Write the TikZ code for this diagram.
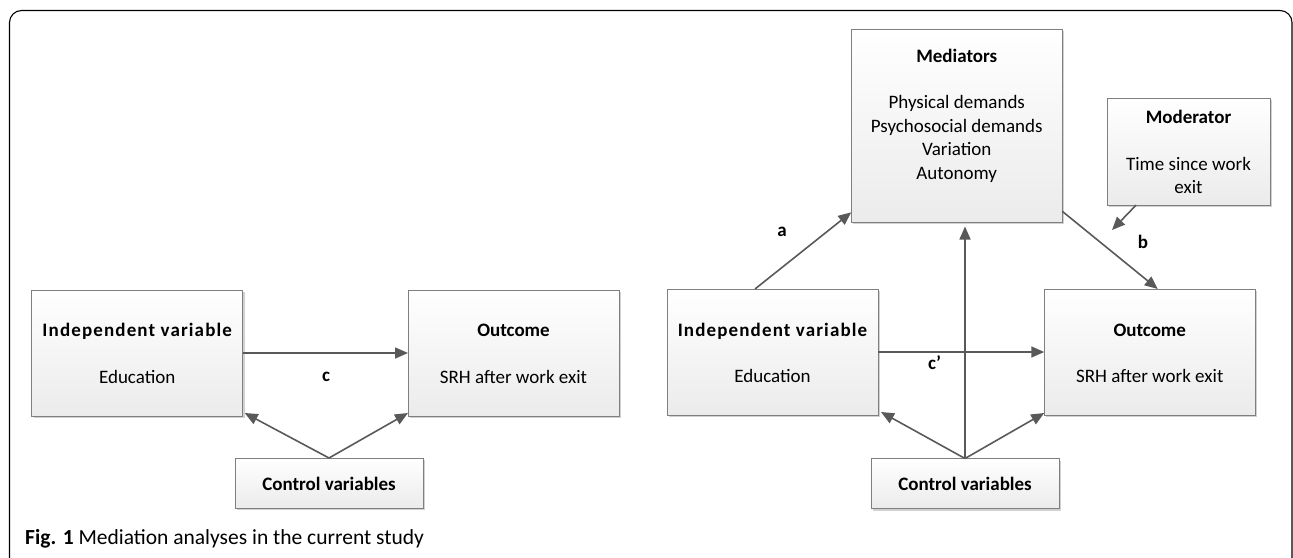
\documentclass[tikz,border=0pt]{standalone}
\usepackage{fontspec}
\setmainfont{Carlito}
\usetikzlibrary{arrows.meta,shadows,calc}
\definecolor{boxline}{HTML}{7F7F7F}
\definecolor{arr}{HTML}{595959}
\definecolor{boxbot}{HTML}{EBEBEB}
\tikzset{
  box/.style={draw=boxline, line width=0.9pt, top color=white, bottom color=boxbot,
    drop shadow={opacity=0.18, shadow xshift=2pt, shadow yshift=-2pt, fill=black},
    inner sep=0pt, outer sep=0pt},
  txt/.style={font=\fontsize{19}{23.5}\selectfont, inner sep=0pt, anchor=base, text=black},
  ttl/.style={txt, font=\fontsize{19}{23.5}\selectfont\bfseries},
  wide/.style={ttl, font=\fontsize{19}{23.5}\selectfont\bfseries\addfontfeatures{LetterSpace=6}},
  lab/.style={ttl},
  conn/.style={draw=arr, line width=1.6pt, -{Triangle[length=13pt,width=11pt]}},
}
\begin{document}
\begin{tikzpicture}[x=1pt,y=-1pt]
\useasboundingbox (0,0) rectangle (1293,557);
% frame
\draw[line width=1.1pt, rounded corners=12pt] (9.5,10.5) rectangle (1292,575);

% ---------- left panel ----------
\node[box, minimum width=211pt, minimum height=126pt] (indL) at (137.2,353) {};
\node[box, minimum width=211pt, minimum height=126pt] (outL) at (513.5,353) {};
\node[box, minimum width=188pt, minimum height=50pt] (ctlL) at (329,483) {};
\node[wide] (indLt) at (137.2,336) {Independent variable};
\node[txt] (indLs) at (137.2,383) {Education};
\node[ttl] (outLt) at (513.5,336) {Outcome};
\node[txt] (outLs) at (513.5,383) {SRH after work exit};
\node[ttl] (ctlLt) at (329,490) {Control variables};
\draw[conn] (indL.east) -- (outL.west);
\node[lab] (labc) at (326,381) {c};
\draw[conn] (ctlL.north) -- ($(indL.south east)+(2,-3)$);
\draw[conn] (ctlL.north) -- ($(outL.south west)+(0,-3)$);

% ---------- right panel ----------
\node[box, minimum width=211pt, minimum height=193pt] (med) at (956.75,125.8) {};
\node[box, minimum width=163pt, minimum height=107pt] (mod) at (1188.5,151.7) {};
\node[box, minimum width=211pt, minimum height=126pt] (indR) at (772.5,352) {};
\node[box, minimum width=211pt, minimum height=126pt] (outR) at (1149.75,352) {};
\node[box, minimum width=188pt, minimum height=50pt] (ctlR) at (965,483.5) {};

\node[ttl] (medt) at (956.75,62) {Mediators};
\node[txt] (med1) at (956.75,108.5) {Physical demands};
\node[txt] (med2) at (956.75,132) {Psychosocial demands};
\node[txt] (med3) at (956.75,155.5) {Variation};
\node[txt] (med4) at (956.75,179) {Autonomy};
\node[ttl] (modt) at (1188.5,123) {Moderator};
\node[txt] (mod1) at (1188.5,170) {Time since work};
\node[txt] (mod2) at (1188.5,193.5) {exit};
\node[wide] (indRt) at (772.5,336) {Independent variable};
\node[txt] (indRs) at (772.5,382.5) {Education};
\node[ttl] (outRt) at (1149.75,336) {Outcome};
\node[txt] (outRs) at (1149.75,382.5) {SRH after work exit};
\node[ttl] (ctlRt) at (965,490.5) {Control variables};

\coordinate (aS) at ($(indR.north west)+(88,0)$);
\coordinate (aE) at ($(med.south west)+(0,-10)$);
\draw[conn] (aS) -- (aE);
\node[lab] (laba) at (782,236) {a};
\coordinate (bS) at ($(med.south east)+(0,-11)$);
\coordinate (bE) at ($(outR.north west)+(113.5,0)$);
\draw[conn] (bS) -- (bE);
\node[lab] (labb) at (1143,248.5) {b};
\coordinate (mS) at ($(mod.south west)+(29,0)$);
\coordinate (mE) at (1112,230);
\draw[conn] (mS) -- (mE);
\draw[conn] (indR.east) -- (outR.west);
\node[lab] (labcp) at (934.5,369.5) {c’};
\coordinate (vE) at (965,226.5);
\draw[conn] (ctlR.north) -- (vE);
\draw[conn] (ctlR.north) -- ($(indR.south east)+(3,-3)$);
\draw[conn] (ctlR.north) -- ($(outR.south west)+(0,-2)$);

% caption
\node[anchor=base west, inner sep=0pt, font=\fontsize{21.5}{25}\selectfont] (cap) at (25,544)
  {\textbf{Fig. 1} Mediation analyses in the current study};
\end{tikzpicture}
\end{document}
